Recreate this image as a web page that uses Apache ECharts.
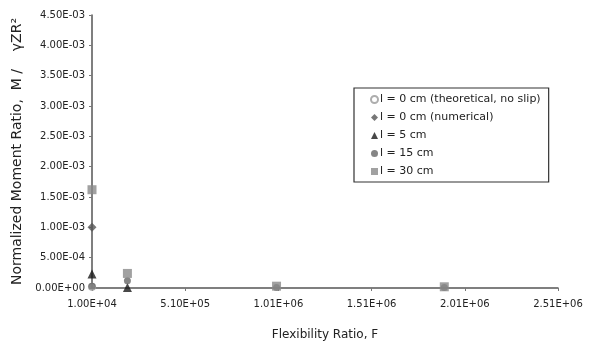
<!DOCTYPE html>
<html>
<head>
<meta charset="utf-8">
<script src="https://cdn.jsdelivr.net/npm/echarts@6/dist/echarts.min.js"></script>
<style>
  html, body { margin: 0; padding: 0; background: #fff; }
  #chart { width: 590px; height: 347px; }
</style>
</head>
<body>
<div id="chart"></div>
<script>
// flexibility ratio F vs normalized moment ratio
var theoretical = [[1.0e4, 2.0e-5]];
var numerical = [[1.0e4, 1.0e-3]];
var slip5 = [[1.0e4, 2.3e-4], [2.0e5, 1.0e-5]];
var slip15 = [[1.0e4, 3.0e-5], [2.0e5, 1.2e-4], [1.0e6, 1.0e-5], [1.9e6, 1.0e-5]];
var slip30 = [[1.0e4, 1.62e-3], [2.0e5, 2.4e-4], [1.0e6, 3.0e-5], [1.9e6, 2.0e-5]];
var seriesNames = ['l = 0 cm (theoretical, no slip)', 'l = 0 cm (numerical)', 'l = 5 cm', 'l = 15 cm', 'l = 30 cm'];

function sci(v) {
    var s = Number(v).toExponential(2).toUpperCase();
    var parts = s.split('E');
    var exp = parts[1];
    var sign = exp.charAt(0);
    var digits = exp.slice(1);
    if (digits.length < 2) digits = '0' + digits;
    return parts[0] + 'E' + sign + digits;
}

var chart = echarts.init(document.getElementById('chart'));
var font = 'DejaVu Sans, sans-serif';

chart.setOption({
    animation: false,
    textStyle: { fontFamily: font },
    grid: { left: 92, right: 32, top: 15, bottom: 59 },
    legend: {
        orient: 'vertical',
        left: 354,
        top: 88,
        padding: [6, 8, 5, 16],
        itemGap: 7,
        itemWidth: 7,
        itemHeight: 7,
        borderColor: '#333',
        borderWidth: 1.2,
        borderRadius: 0,
        textStyle: { fontSize: 11, color: '#222', fontFamily: font, padding: [0, 0, 0, -3] },
        data: seriesNames
    },
    xAxis: {
        type: 'value',
        min: 1.0e4,
        max: 2.51e6,
        interval: 5.0e5,
        name: 'Flexibility Ratio, F',
        nameLocation: 'middle',
        nameGap: 41,
        nameTextStyle: { fontSize: 12, color: '#222' },
        axisLine: { lineStyle: { color: '#555', width: 1.5 } },
        axisTick: { show: true, length: 3, lineStyle: { color: '#777' } },
        axisLabel: { fontSize: 10, color: '#222', margin: 11, formatter: sci },
        splitLine: { show: false }
    },
    yAxis: {
        type: 'value',
        min: 0,
        max: 4.5e-3,
        interval: 5.0e-4,
        name: 'Normalized Moment Ratio,  M /    \u03b3ZR\u00b2',
        nameLocation: 'middle',
        nameGap: 58,
        nameTextStyle: { fontSize: 14, color: '#222' },
        axisLine: { show: true, lineStyle: { color: '#555', width: 1.5 } },
        axisTick: { show: true, length: 3, lineStyle: { color: '#777' } },
        axisLabel: { fontSize: 10, color: '#222', margin: 7, formatter: sci },
        splitLine: { show: false }
    },
    series: [
        {
            name: seriesNames[0], type: 'scatter', data: theoretical,
            symbol: 'circle', symbolSize: 7,
            itemStyle: { color: '#fff', borderColor: '#999', borderWidth: 1.2 }
        },
        {
            name: seriesNames[1], type: 'scatter', data: numerical,
            symbol: 'diamond', symbolSize: 9,
            itemStyle: { color: '#555' }
        },
        {
            name: seriesNames[2], type: 'scatter', data: slip5,
            symbol: 'triangle', symbolSize: 9,
            itemStyle: { color: '#1a1a1a' }
        },
        {
            name: seriesNames[3], type: 'scatter', data: slip15,
            symbol: 'circle', symbolSize: 7,
            itemStyle: { color: '#666' }
        },
        {
            name: seriesNames[4], type: 'scatter', data: slip30,
            symbol: 'rect', symbolSize: 9,
            itemStyle: { color: '#8a8a8a' }
        }
    ]
});
</script>
</body>
</html>
